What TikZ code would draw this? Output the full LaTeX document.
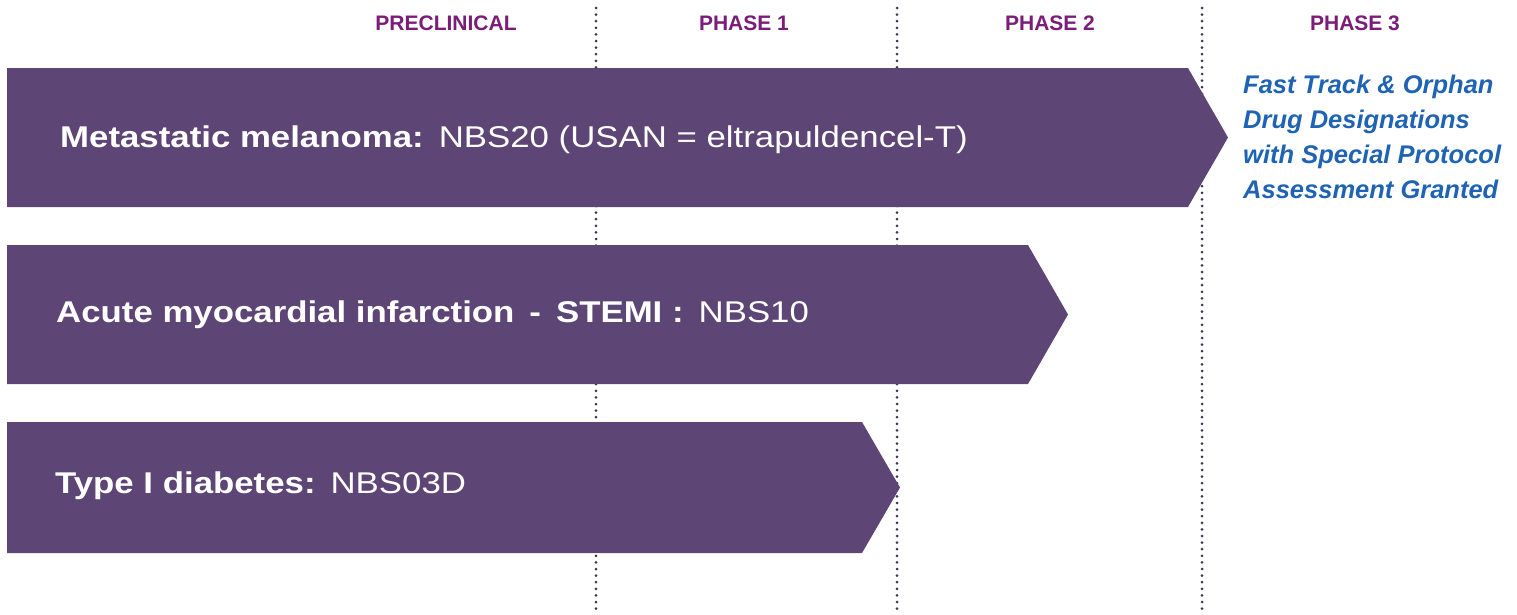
\documentclass[tikz,border=0pt]{standalone}
\usepackage{fontspec}
\setmainfont{Liberation Sans}
\newfontfamily\trackfont[FakeStretch=1.16]{Liberation Sans}
\usetikzlibrary{positioning}

\definecolor{trackpurple}{HTML}{5D4575}
\definecolor{headpurple}{HTML}{7A1C78}
\definecolor{noteblue}{HTML}{1F63B4}
\definecolor{dotgrey}{HTML}{3E3652}

\begin{document}
\begin{tikzpicture}[x=1pt,y=-1pt,
    phasehead/.style={font=\fontsize{21}{24}\selectfont\bfseries, text=headpurple, inner sep=0pt},
    phaseline/.style={draw=dotgrey, line width=3pt, line cap=round, dash pattern=on 0pt off 6.6pt},
    track/.style={fill=trackpurple},
    tracklabel/.style={anchor=west, text=white, inner sep=0pt, font=\trackfont\fontsize{30}{34}\selectfont},
    note/.style={anchor=north west, text=noteblue, inner sep=0pt, align=left,
      font=\fontsize{25.5}{35}\selectfont\bfseries\itshape}]
  \useasboundingbox (0,0) rectangle (1517,614);

  % phase boundaries
  \coordinate (b1) at (596,8);
  \coordinate (b2) at (897,8);
  \coordinate (b3) at (1202,8);
  \foreach \b in {b1,b2,b3}
    \draw[phaseline] (\b) -- (\b |- 0,614);

  % column heads
  \node[phasehead] (pre) at (446,23) {PRECLINICAL};
  \node[phasehead] (ph1) at (744,23) {PHASE 1};
  \node[phasehead] (ph2) at (1050,23) {PHASE 2};
  \node[phasehead] (ph3) at (1355,23) {PHASE 3};

  % programme arrows
  \fill[track] (7,68) -- (1188,68) -- (1228,137.5) -- (1188,207) -- (7,207) -- cycle;
  \fill[track] (7,245) -- (1028,245) -- (1068,314.5) -- (1028,384) -- (7,384) -- cycle;
  \fill[track] (7,422) -- (862,422) -- (900,487.5) -- (862,553) -- (7,553) -- cycle;

  \node[tracklabel] (mel) at (60,140) {\textbf{Metastatic melanoma:}\enspace NBS20 (USAN = eltrapuldencel-T)};
  \node[tracklabel] (ami) at (56,315) {\textbf{Acute myocardial infarction\enspace -\enspace STEMI :}\enspace NBS10};
  \node[tracklabel] (dia) at (55,486) {\textbf{Type I diabetes:}\enspace NBS03D};

  \node[note] (fast) at (1243,75) {Fast Track \& Orphan\\Drug Designations\\with Special Protocol\\Assessment Granted};
\end{tikzpicture}
\end{document}
